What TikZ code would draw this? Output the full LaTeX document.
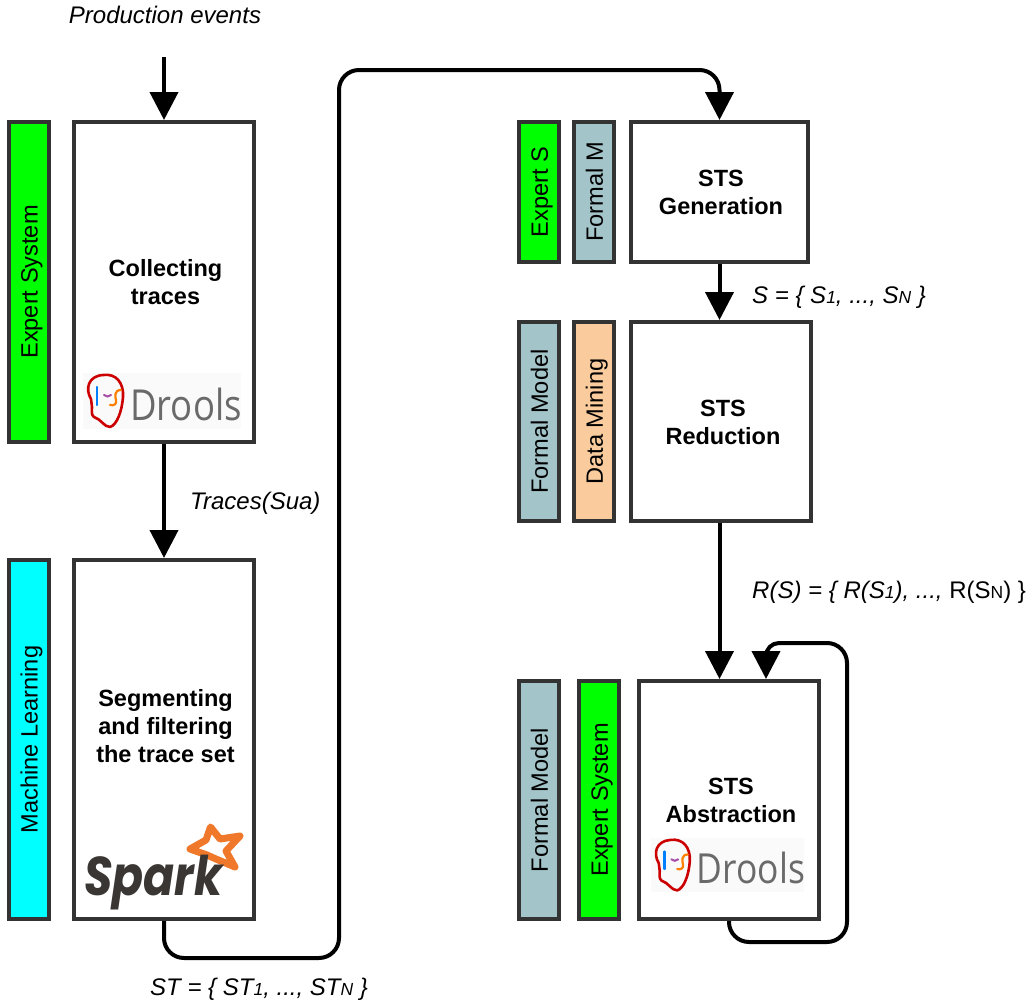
\documentclass[tikz,border=0pt]{standalone}
\usepackage{fontspec}
\setmainfont{Liberation Sans}
\newfontfamily\droolsfont{Open Sans}
\newfontfamily\sparkfont{Poppins}
\usetikzlibrary{arrows.meta,calc}
\definecolor{edgegray}{HTML}{333333}
\definecolor{formalc}{HTML}{A3C4C9}
\definecolor{miningc}{HTML}{FACB9C}
\definecolor{droolsgray}{HTML}{6A6A6A}
\definecolor{sparkdark}{HTML}{3A3634}
\definecolor{sparkorange}{HTML}{F0782A}
\definecolor{puregreen}{RGB}{0,255,0}
\definecolor{purecyan}{RGB}{0,255,255}
\definecolor{logoback}{HTML}{FAFAFB}
\newcommand{\subsz}[1]{{\fontsize{17.5}{17.5}\selectfont #1}}
\tikzset{
  x=1pt,y=-1pt,
  boxshape/.style={draw=edgegray,line width=4pt,fill=white,inner sep=0pt},
  sidebar/.style={draw=edgegray,line width=4pt,rotate=90,inner sep=0pt,minimum height=40pt,
    text height=17.5pt,text depth=0pt,font=\fontsize{23.6}{25}\selectfont},
  flow/.style={line width=4pt,draw=black,-{Triangle[width=28pt,length=28pt]}},
  note/.style={anchor=west,inner sep=0pt,font=\fontsize{24}{28}\selectfont\itshape},
  boxtext/.style={inner sep=0pt,align=center,font=\fontsize{23.5}{28}\selectfont\bfseries},
  pics/droolslogo/.style={code={
    \fill[logoback] (0,0) rectangle (158,56);
    \draw[line width=2.6pt,red!80!black,line join=round,line cap=round]
      (8,26) .. controls (2,16) and (5,3) .. (20,2)
      .. controls (33,0) and (41,10) .. (40,24)
      .. controls (39,38) and (34,52) .. (27,54)
      .. controls (21,54) and (18,46) .. (11,44)
      .. controls (8,42) and (9,38) .. (9,34)
      .. controls (8,31) and (9,29) .. (8,26);
    \draw[line width=2.2pt,blue!50!cyan,line cap=round] (14,14) -- (14,32) ;
    \draw[line width=2pt,violet!70,line cap=round] (21,22) .. controls (23,24) and (26,24) .. (28,22);
    \draw[line width=2.2pt,orange,line cap=round] (38,17) .. controls (31,17) and (32,24) .. (33,27)
      .. controls (34,31) and (31,33) .. (27,32);
    \node[anchor=base west,inner sep=0pt,text=droolsgray,transform shape,yscale=1.17,
      font=\droolsfont\fontsize{36.5}{36}\selectfont] (#1) at (47,47) {Drools};
  }},
}
\begin{document}
\begin{tikzpicture}
\useasboundingbox (0,0) rectangle (1034,1007);
% main boxes
\node[boxshape,minimum width=180pt,minimum height=320pt] (collect) at (164,282) {};
\node[boxshape,minimum width=180pt,minimum height=359pt] (segment) at (164,739.5) {};
\node[boxshape,minimum width=177pt,minimum height=140pt] (gen) at (719.5,192) {};
\node[boxshape,minimum width=180pt,minimum height=199pt] (red) at (721,421.5) {};
\node[boxshape,minimum width=180pt,minimum height=238pt] (abs) at (729,800) {};
\node[boxtext] (coltext) at (165.5,282) {Collecting\\traces};
\node[boxtext] (segtext) at (165.5,726) {Segmenting\\and filtering\\the trace set};
\node[boxtext] (gentext) at (721,192) {STS\\Generation};
\node[boxtext] (redtext) at (723,422) {STS\\Reduction};
\node[boxtext] (abstext) at (731,800) {STS\\Abstraction};
% side bars
\node[sidebar,fill=puregreen,minimum width=320pt] (bar1) at (29,282) {Expert System};
\node[sidebar,fill=purecyan,minimum width=359pt] (bar2) at (29,739.5) {Machine Learning};
\node[sidebar,fill=puregreen,minimum width=140pt] (bar3) at (539,192) {Expert S};
\node[sidebar,fill=formalc,minimum width=140pt] (bar4) at (594,192) {Formal M};
\node[sidebar,fill=formalc,minimum width=199pt] (bar5) at (539,421.5) {Formal Model};
\node[sidebar,fill=miningc,minimum width=199pt] (bar6) at (594,421.5) {Data Mining};
\node[sidebar,fill=formalc,minimum width=238pt] (bar7) at (539,800) {Formal Model};
\node[sidebar,fill=puregreen,minimum width=238pt] (bar8) at (599,800) {Expert System};
% logos
\pic at (83,373) {droolslogo=logoa};
\pic[scale=0.97] at (651,838) {droolslogo=logob};
% spark logo
\draw[line width=7pt,sparkorange,fill=white,line join=round] (210.5,827) -- (220,839) -- (240,836) -- (226,851) -- (235,867) -- (216,859) -- (207,855) -- (190,849) -- (206,840) -- cycle;
\node[anchor=base west,inner sep=0pt,text=sparkdark,transform shape,xscale=0.88,yscale=1.05,
  font=\sparkfont\fontsize{52}{52}\selectfont\bfseries\itshape] (sparklogo) at (84,895) {Spark};
% labels
\node[note,anchor=center] (prod) at (165,15) {Production events};
\node[note] (ltraces) at (190,503) {Traces(Sua)};
\node[note] (ls) at (752,297) {S = \{ S\subsz{1}, ..., S\subsz{N} \}};
\node[note] (lr) at (752,592) {R(S) = \{ R(S\subsz{1}), ..., {\upshape R(S\subsz{N}) \}}};
\node[note] (lst) at (150,989) {ST = \{ ST\subsz{1}, ..., ST\subsz{N} \}};
% connectors
\coordinate (start) at (164,57);
\draw[flow] (start) -- (collect.north);
\draw[flow] (collect.south) -- (segment.north);
\draw[flow,rounded corners=20pt] (segment.south) -- (segment.south |- 0,958) -- (339,958) -- (339,70) -- (gen.north |- 0,70) -- (gen.north);
\draw[flow] (gen.south) -- (gen.south |- red.north);
\draw[flow] (gen.south |- red.south) -- (gen.south |- abs.north);
\draw[flow,rounded corners=20pt] (abs.south) -- (729,942) -- (847,942) -- (847,643) [rounded corners=13pt] -- (766,643) -- ($(abs.north)+(37,0)$);
\end{tikzpicture}
\end{document}
